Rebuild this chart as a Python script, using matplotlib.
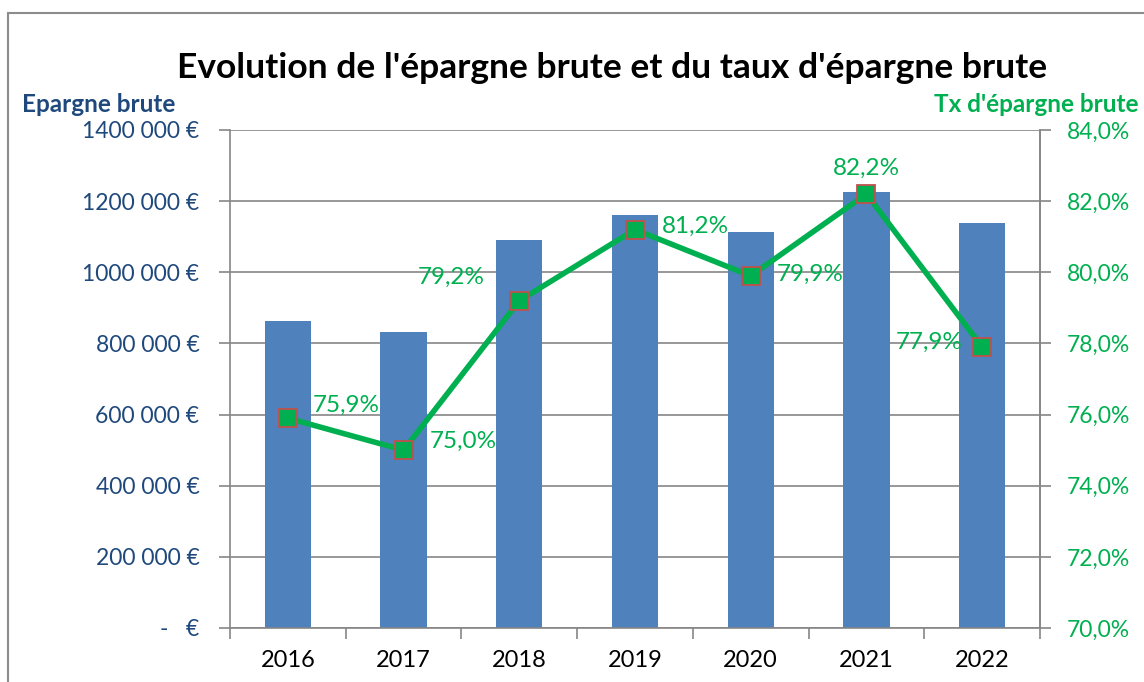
import matplotlib
matplotlib.use("Agg")
import matplotlib.pyplot as plt
from matplotlib.patches import Rectangle
from matplotlib.ticker import FuncFormatter, FixedLocator

plt.rcParams["font.family"] = ["Lato", "DejaVu Sans"]

# données
annees = ["2016", "2017", "2018", "2019", "2020", "2021", "2022"]
epargne = [862000, 833000, 1092000, 1162000, 1114000, 1227000, 1139000]
taux = [75.9, 75.0, 79.2, 81.2, 79.9, 82.2, 77.9]
# position des étiquettes (décalage en points)
pos_lbl = [(18, 9, "left"), (19, 6, "left"), (-25, 17, "right"), (19, 2, "left"),
           (19, 1, "left"), (0, 11, "center"), (-14, 3, "right")]

BLEU = "#4F81BD"
BLEU_TXT = "#1F497D"
VERT = "#00B050"
GRIS = "#868686"

fig = plt.figure(figsize=(11.44, 6.82), dpi=100)
fig.patches.append(Rectangle((8 / 1144, -0.1), 1.2, 0.1 + 669 / 682, transform=fig.transFigure,
                             fill=False, edgecolor="#8C8C8C", lw=1.5))
ax = fig.add_axes([230 / 1144, 54 / 682, 810 / 1144, 498 / 682])
ax2 = ax.twinx()

x = range(len(annees))
ax.bar(x, epargne, width=0.4, color=BLEU, zorder=2)
ax.set_xlim(-0.5, len(annees) - 0.5)
ax.set_ylim(0, 1400000)
ax.set_yticks(range(0, 1400001, 200000))


def fmt_eur(v, pos):
    if v == 0:
        return "-   €"
    v = int(v)
    s = str(v % 1000).zfill(3)
    return f"{v // 1000} {s} €"


ax.yaxis.set_major_formatter(FuncFormatter(fmt_eur))
ax.yaxis.grid(True, color=GRIS, lw=1.2, zorder=0)
ax.set_axisbelow(True)
ax.tick_params(axis="y", colors=GRIS, labelcolor=BLEU_TXT, labelsize=16.5, length=8, width=1.2,
               direction="out", pad=14)
ax.set_xticks(list(x))
ax.set_xticklabels(annees)
ax.xaxis.set_minor_locator(FixedLocator([i - 0.5 for i in range(len(annees) + 1)]))
ax.tick_params(axis="x", which="major", length=0, labelsize=17, pad=16)
ax.tick_params(axis="x", which="minor", length=8, width=1.2, color=GRIS, direction="out")
ax.spines["top"].set_visible(False)
for s in ["left", "bottom", "right"]:
    ax.spines[s].set_color(GRIS)
    ax.spines[s].set_linewidth(1.2)

ax2.plot(x, taux, color=VERT, lw=4, marker="s", markersize=12.5, markerfacecolor=VERT,
         markeredgecolor="#C0504D", markeredgewidth=1.3, zorder=3)
ax2.set_ylim(70, 84)
ax2.set_yticks(range(70, 85, 2))
ax2.yaxis.set_major_formatter(FuncFormatter(lambda v, p: f"{v:.1f}%".replace(".", ",")))
ax2.tick_params(axis="y", colors=GRIS, labelcolor=VERT, labelsize=16.5, length=8, width=1.2,
                direction="out", pad=11)
for s in ["top", "left", "bottom"]:
    ax2.spines[s].set_visible(False)
ax2.spines["right"].set_color(GRIS)
ax2.spines["right"].set_linewidth(1.2)

for i, (t, (dx, dy, ha)) in enumerate(zip(taux, pos_lbl)):
    ax2.annotate(f"{t:.1f}%".replace(".", ","), (i, t), xytext=(dx, dy), textcoords="offset points",
                 ha=ha, va="center" if ha != "center" else "bottom", color=VERT, fontsize=17.5)

fig.text(612 / 1144, 1 - 68 / 682, "Evolution de l'épargne brute et du taux d'épargne brute",
         ha="center", va="center", fontsize=25.5, fontweight="bold", color="black")
fig.text(22 / 1144, 1 - 104 / 682, "Epargne brute", ha="left", va="center", fontsize=17.5,
         fontweight="bold", color=BLEU_TXT)
fig.text(1139 / 1144, 1 - 104 / 682, "Tx d'épargne brute", ha="right", va="center", fontsize=17.5,
         fontweight="bold", color=VERT)

fig.savefig("out.png", dpi=100)
